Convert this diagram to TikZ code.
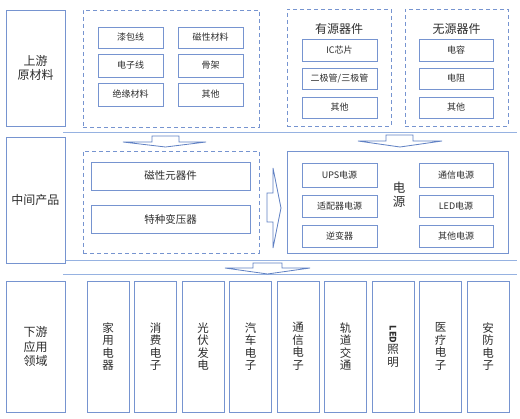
\documentclass[tikz,border=0pt]{standalone}
\usepackage{fontspec}
\setmainfont{Noto Sans CJK SC}
\usepackage{graphicx}
\definecolor{bc}{RGB}{118,148,208}
\definecolor{lc}{RGB}{150,178,225}
\definecolor{ac}{RGB}{95,128,195}
\definecolor{tc}{RGB}{45,45,45}
\newcommand\Bx[7]{\node[#1,minimum width={(#5-#3)*1pt},minimum height={(#6-#4)*1pt}] (#2) at ({(#3+#5)/2},{(#4+#6)/2}) {#7};}
\begin{document}
\begin{tikzpicture}[x=1pt,y=-1pt,
  bx/.style={draw=bc,line width=0.9pt,fill=white,inner sep=0pt,align=center,text=tc},
  dbx/.style={draw=bc,line width=0.8pt,dash pattern=on 4pt off 3pt,inner sep=0pt},
  sm/.style={font=\fontsize{9}{10}\selectfont},
  md/.style={font=\fontsize{10.5}{12}\selectfont},
  big/.style={font=\fontsize{12}{14.5}\selectfont},
  vt/.style={font=\fontsize{11.5}{12.5}\selectfont},
  sep/.style={draw=lc,line width=1pt},
  arr/.style={draw=ac,line width=0.8pt,fill=white,line join=miter}]
\useasboundingbox (0,0) rectangle (520,419);
% separator lines
\draw[sep] (63,133) -- (517,133);
\draw[sep] (63,261) -- (517,261);
\draw[sep] (63,275) -- (517,275);
% left labels
\Bx{bx,big}{up}{6}{10}{65}{126}{上游\\原材料}
\Bx{bx,big}{mid}{6}{137}{65}{263}{中间产品}
\Bx{bx,big}{down}{6}{281}{65}{412}{下游\\应用\\领域}
% top band: raw materials
\Bx{dbx}{raw}{83}{10}{259}{127}{}
\Bx{bx,sm}{r1}{98}{27}{163}{48}{漆包线}
\Bx{bx,sm}{r2}{178}{27}{243}{48}{磁性材料}
\Bx{bx,sm}{r3}{98}{54}{163}{77}{电子线}
\Bx{bx,sm}{r4}{178}{54}{243}{77}{骨架}
\Bx{bx,sm}{r5}{98}{83}{163}{106}{绝缘材料}
\Bx{bx,sm}{r6}{178}{83}{243}{106}{其他}
% active components
\Bx{dbx}{act}{287}{9}{391}{126}{}
\node[big,text=tc] (actt) at (339,29) {有源器件};
\Bx{bx,sm}{a1}{302}{39}{377}{61}{IC芯片}
\Bx{bx,sm}{a2}{302}{68}{377}{89}{二极管/三极管}
\Bx{bx,sm}{a3}{302}{97}{377}{118}{其他}
% passive components
\Bx{dbx}{pas}{405}{9}{508}{126}{}
\node[big,text=tc] (past) at (456.5,29) {无源器件};
\Bx{bx,sm}{p1}{419}{39}{493}{61}{电容}
\Bx{bx,sm}{p2}{419}{68}{493}{89}{电阻}
\Bx{bx,sm}{p3}{419}{97}{493}{118}{其他}
% middle band
\Bx{dbx}{mag}{83}{151}{259}{253}{}
\Bx{bx,md}{m1}{91}{162}{250}{190}{磁性元器件}
\Bx{bx,md}{m2}{91}{205}{250}{233}{特种变压器}
\Bx{bx}{pw}{287}{151}{508}{253}{}
\Bx{bx,sm}{s1}{302}{163}{377}{187}{UPS电源}
\Bx{bx,sm}{s2}{419}{163}{493}{187}{通信电源}
\Bx{bx,sm}{s3}{302}{195}{377}{217}{适配器电源}
\Bx{bx,sm}{s4}{419}{195}{493}{217}{LED电源}
\Bx{bx,sm}{s5}{302}{225}{377}{247}{逆变器}
\Bx{bx,sm}{s6}{419}{225}{493}{247}{其他电源}
\node[font=\fontsize{12.5}{13.5}\selectfont,align=center,text=tc] (pwt) at (399,195) {电\\源};
% bottom band
\foreach \n/\t [count=\i from 0] in {d1/{家\\用\\电\\器},d2/{消\\费\\电\\子},d3/{光\\伏\\发\\电},d4/{汽\\车\\电\\子},d5/{通\\信\\电\\子},d6/{轨\\道\\交\\通},d7/{\rotatebox{-90}{\fontsize{9}{9}\selectfont\bfseries LED}\\照\\明},d8/{医\\疗\\电\\子},d9/{安\\防\\电\\子}}{
  \pgfmathsetmacro\xa{87+47.5*\i}
  \pgfmathsetmacro\xb{\xa+42}
  \Bx{bx,vt}{\n}{\xa}{281}{\xb}{412}{\t}
}
% block arrows
\draw[arr] (152,136) -- (179,136) -- (179,142) -- (206,142) -- (165.5,147) -- (123,142) -- (152,142) -- cycle;
\draw[arr] (386,135) -- (413,135) -- (413,141) -- (442,141) -- (400,147) -- (358,141) -- (386,141) -- cycle;
\draw[arr] (253,263) -- (282,263) -- (282,268) -- (310,268) -- (267.5,274) -- (225,268) -- (253,268) -- cycle;
\draw[arr] (267,193) -- (273,193) -- (273,168) -- (281,208) -- (273,248) -- (273,222) -- (267,222) -- cycle;
\end{tikzpicture}
\end{document}
